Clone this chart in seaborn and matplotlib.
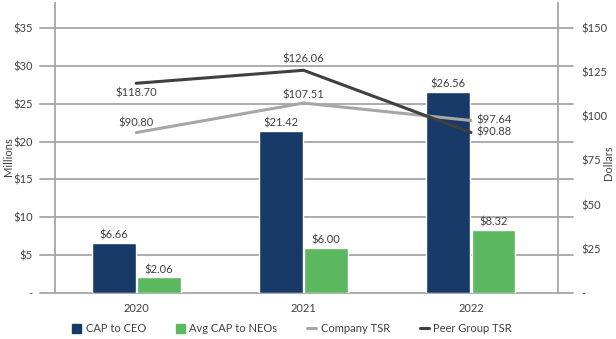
import numpy as np
import pandas as pd
import matplotlib
matplotlib.use("Agg")
import matplotlib.pyplot as plt
from matplotlib.patches import Patch
from matplotlib.lines import Line2D
import seaborn as sns

years = ["2020", "2021", "2022"]
cap_ceo = [6.66, 21.42, 26.56]
cap_neos = [2.06, 6.00, 8.32]
company_tsr = [90.80, 107.51, 97.64]
peer_tsr = [118.70, 126.06, 90.88]
left_ticks = [0, 5, 10, 15, 20, 25, 30, 35]
left_labels = ["-", "$5", "$10", "$15", "$20", "$25", "$30", "$35"]
right_ticks = [0, 25, 50, 75, 100, 125, 150]
right_labels = ["-", "$25", "$50", "$75", "$100", "$125", "$150"]
series_names = ["CAP to CEO", "Avg CAP to NEOs", "Company TSR", "Peer Group TSR"]

NAVY = "#173a68"
GREEN = "#5cb85e"
LIGHT = "#a6a6a6"
DARK = "#404040"
GRID = "#a6a6a6"
TXT = "#404040"

sns.set_theme(style="white")
plt.rcParams["font.family"] = ["Lato", "DejaVu Sans"]

fig = plt.figure(figsize=(6.16, 3.39), dpi=100)
ax = fig.add_axes([55/616, 1-293/339, 503/616, 290/339])

df = pd.DataFrame({
    "year": years * 2,
    "series": [series_names[0]] * 3 + [series_names[1]] * 3,
    "value": cap_ceo + cap_neos,
})
sns.barplot(data=df, x="year", y="value", hue="series",
            palette=[NAVY, GREEN], saturation=1, width=0.54, gap=0.03,
            ax=ax, legend=False, zorder=2)

for cont, vals in zip(ax.containers, [cap_ceo, cap_neos]):
    ax.bar_label(cont, labels=[f"${v:.2f}" for v in vals], padding=1.5,
                 fontsize=8, color=TXT)

ax.set_xlim(-0.485, 2.52)
ax.set_ylim(0, 38.3)
for t in left_ticks:
    ax.axhline(t, xmin=-0.03, xmax=1.03, color=GRID, lw=1.3, zorder=0, clip_on=False)
ax.set_yticks(left_ticks)
ax.set_yticklabels(left_labels)
ax.tick_params(axis="y", length=0, pad=16, labelsize=8, labelcolor=TXT)
ax.tick_params(axis="x", length=0, pad=7, labelsize=8, labelcolor=TXT)
ax.set_xlabel("")
ax.set_ylabel("Millions", fontsize=8, color=TXT)
ax.yaxis.set_label_coords(-0.082, 0.47)
for s in ["top", "bottom", "right"]:
    ax.spines[s].set_visible(False)
ax.spines["left"].set_color(GRID)
ax.spines["left"].set_linewidth(1.3)

ax2 = ax.twinx()
x = np.arange(len(years))
sns.lineplot(x=x, y=company_tsr, ax=ax2, color=LIGHT, lw=2.2, sort=False)
sns.lineplot(x=x, y=peer_tsr, ax=ax2, color=DARK, lw=2.2, sort=False)
ax2.set_ylim(0, 38.3 * 150 / 35)
ax2.set_yticks(right_ticks)
ax2.set_yticklabels(right_labels)
ax2.tick_params(axis="y", length=0, pad=17, labelsize=8, labelcolor=TXT)
ax2.set_ylabel("Dollars", fontsize=8, color=TXT)
ax2.yaxis.set_label_coords(1.089, 0.45)
for s in ["top", "bottom", "left"]:
    ax2.spines[s].set_visible(False)
ax2.spines["right"].set_color(GRID)
ax2.spines["right"].set_linewidth(1.3)

# line labels
offs_c = [(0, 7, "center"), (0, 6, "center"), (4, 0, "left")]
offs_p = [(0, -7, "center"), (0, 8, "center"), (4, 0, "left")]
for vals, offs in [(company_tsr, offs_c), (peer_tsr, offs_p)]:
    for i, (v, (dx, dy, ha)) in enumerate(zip(vals, offs)):
        ax2.annotate(f"${v:.2f}", (x[i], v), xytext=(dx, dy), textcoords="offset points",
                     ha=ha, va="center", fontsize=8, color=TXT)

handles = [Patch(facecolor=NAVY, edgecolor=NAVY), Patch(facecolor=GREEN, edgecolor=GREEN),
           Line2D([], [], color=LIGHT, lw=2.2), Line2D([], [], color=DARK, lw=2.2)]
fig.legend(handles, series_names, loc="center", bbox_to_anchor=(292/616, 1-329/339),
           ncol=4, frameon=False, fontsize=8, handlelength=0.8, handleheight=0.8,
           handletextpad=0.4, columnspacing=2.7, labelcolor=TXT)

fig.savefig("out.png", dpi=100)
